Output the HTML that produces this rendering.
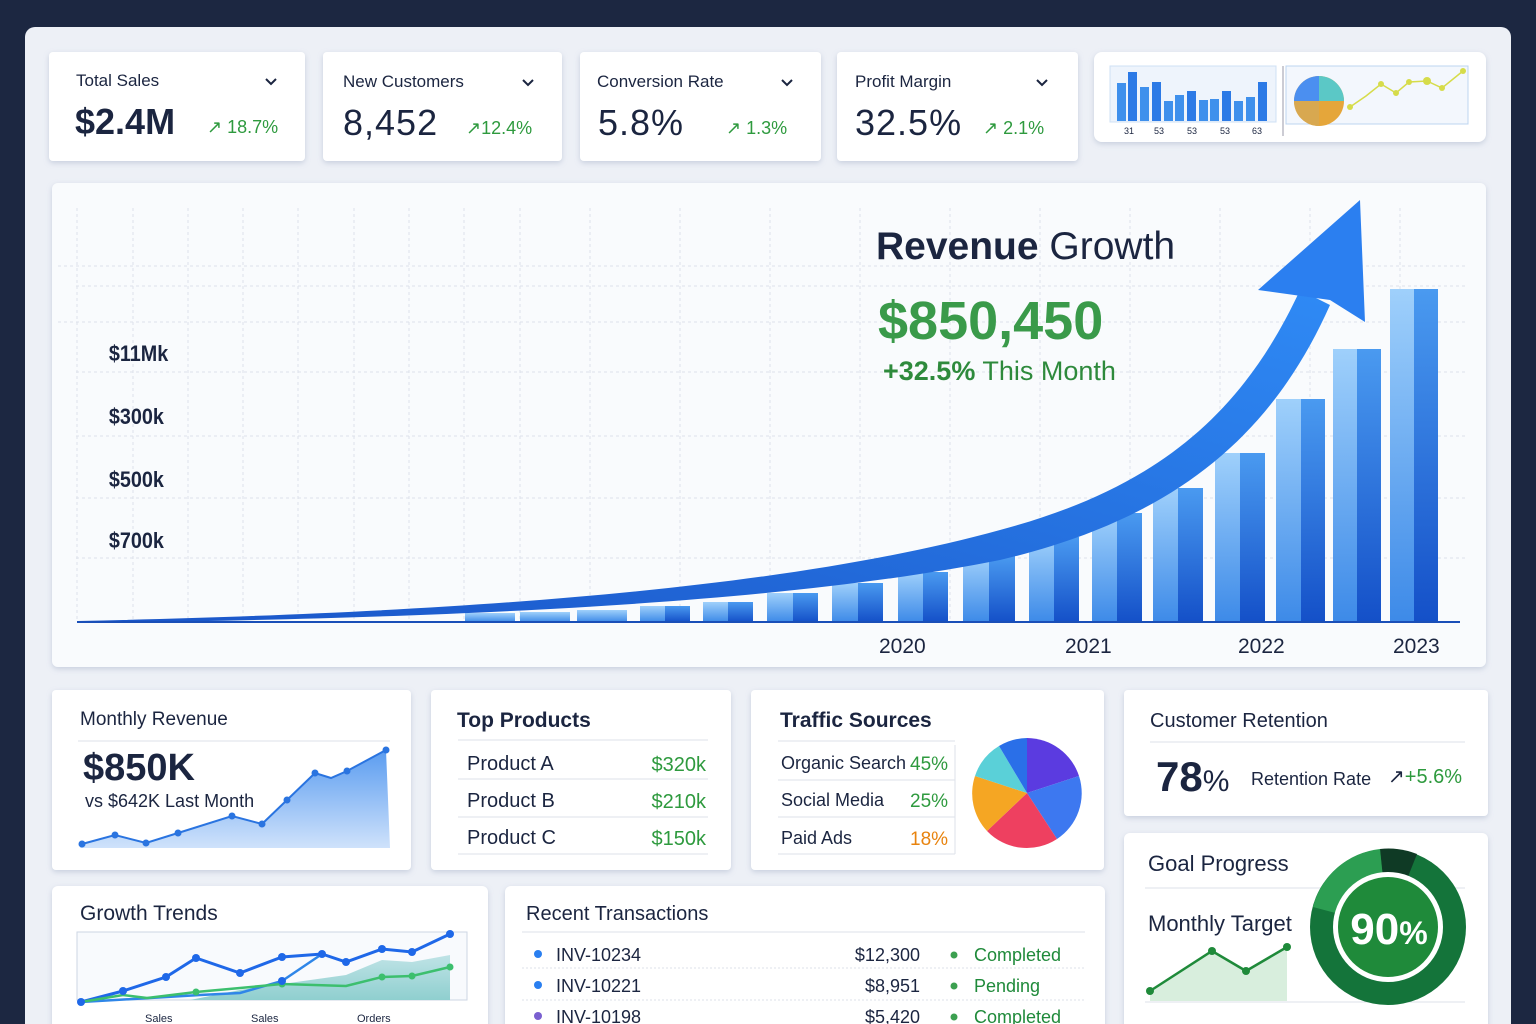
<!DOCTYPE html>
<html><head><meta charset="utf-8"><style>
html,body{margin:0;padding:0;width:1536px;height:1024px;overflow:hidden;background:#1c2741}
svg{display:block}
text{font-family:"Liberation Sans",sans-serif}
</style></head><body>
<svg width="1536" height="1024" viewBox="0 0 1536 1024" xmlns="http://www.w3.org/2000/svg">
<defs>
<filter id="sh" x="-5%" y="-5%" width="110%" height="120%"><feDropShadow dx="0" dy="2" stdDeviation="3" flood-color="#8090b0" flood-opacity="0.35"/></filter>
<linearGradient id="barL" x1="0" y1="0" x2="0" y2="1"><stop offset="0" stop-color="#9fd0fb"/><stop offset="1" stop-color="#3d8ae8"/></linearGradient>
<linearGradient id="barD" x1="0" y1="0" x2="0" y2="1"><stop offset="0" stop-color="#4a9af0"/><stop offset="1" stop-color="#1450c8"/></linearGradient>
<linearGradient id="arr" x1="0" y1="1" x2="1" y2="0"><stop offset="0" stop-color="#1a55c8"/><stop offset="1" stop-color="#2f8af5"/></linearGradient>
<linearGradient id="mr" x1="0" y1="0" x2="0" y2="1"><stop offset="0" stop-color="#5a9cf0"/><stop offset="1" stop-color="#cfe2fb"/></linearGradient>
<linearGradient id="gt" x1="0" y1="0" x2="0" y2="1"><stop offset="0" stop-color="#bfe3e6"/><stop offset="1" stop-color="#8fcfcf"/></linearGradient>
</defs>
<rect x="25" y="27" width="1486" height="1010" rx="10" fill="#edf0f6"/>

<g filter="url(#sh)">
<rect x="49" y="52" width="256" height="109" rx="4" fill="#fff"/>
<rect x="323" y="52" width="239" height="109" rx="4" fill="#fff"/>
<rect x="580" y="52" width="241" height="109" rx="4" fill="#fff"/>
<rect x="837" y="52" width="241" height="109" rx="4" fill="#fff"/>
<rect x="1094" y="52" width="392" height="90" rx="8" fill="#fff"/>
</g>
<g fill="#1b2540" font-size="17">
<text x="76" y="86">Total Sales</text>
<text x="343" y="87">New Customers</text>
<text x="597" y="87">Conversion Rate</text>
<text x="855" y="87">Profit Margin</text>
</g>
<g stroke="#1b2540" stroke-width="2" fill="none">
<path d="M266 79l5 5 5-5"/><path d="M523 80l5 5 5-5"/><path d="M782 80l5 5 5-5"/><path d="M1037 80l5 5 5-5"/>
</g>
<g fill="#1b2540" font-size="36">
<text x="75" y="134" font-weight="bold">$2.4M</text>
<text x="343" y="135" letter-spacing="1">8,452</text>
<text x="598" y="135" letter-spacing="1">5.8%</text>
<text x="855" y="135" letter-spacing="1">32.5%</text>
</g>
<g fill="#2e9a3e" font-size="18">
<text x="207" y="133">↗ 18.7%</text>
<text x="466" y="134">↗12.4%</text>
<text x="726" y="134">↗ 1.3%</text>
<text x="983" y="134">↗ 2.1%</text>
</g>
<rect x="1110" y="66" width="166" height="56" fill="#eef4fc" stroke="#cfe0f5"/>
<g fill="#3f90ec">
<rect x="1117" y="83" width="9" height="38"/><rect x="1128" y="72" width="9" height="49" fill="#2c7ae6"/><rect x="1140" y="87" width="9" height="34"/><rect x="1152" y="82" width="9" height="39" fill="#2c7ae6"/><rect x="1164" y="101" width="9" height="20"/><rect x="1175" y="95" width="9" height="26"/><rect x="1187" y="91" width="9" height="30" fill="#2c7ae6"/><rect x="1199" y="100" width="9" height="21"/><rect x="1210" y="99" width="9" height="22"/><rect x="1222" y="91" width="9" height="30" fill="#2c7ae6"/><rect x="1234" y="101" width="9" height="20"/><rect x="1246" y="97" width="9" height="24"/><rect x="1258" y="82" width="9" height="39" fill="#2c7ae6"/>
</g>
<g font-size="9" fill="#1b2540"><text x="1124" y="134">31</text><text x="1154" y="134">53</text><text x="1187" y="134">53</text><text x="1220" y="134">53</text><text x="1252" y="134">63</text></g>
<line x1="1283" y1="66" x2="1283" y2="136" stroke="#99a"/>
<rect x="1286" y="66" width="182" height="58" fill="#f3f7fd" stroke="#bcd4f0"/>
<circle cx="1319" cy="101" r="25" fill="#e5a63a"/>
<path d="M1319 101V76A25 25 0 0 1 1344 101Z" fill="#5bc8c6"/>
<path d="M1319 101H1294A25 25 0 0 1 1319 76Z" fill="#4b8ff0"/>
<path d="M1319 101H1294A25 25 0 0 0 1319 126Z" fill="#d8a850"/>
<polyline points="1350,107 1366,96 1381,84 1396,93 1409,82 1427,81 1442,88 1463,71" fill="none" stroke="#d6dc4a" stroke-width="1.5"/>
<g fill="#d6dc4a"><circle cx="1350" cy="107" r="3"/><circle cx="1381" cy="84" r="3"/><circle cx="1396" cy="93" r="3"/><circle cx="1409" cy="82" r="3"/><circle cx="1427" cy="81" r="4"/><circle cx="1442" cy="88" r="3"/><circle cx="1463" cy="71" r="3"/></g>

<rect x="52" y="183" width="1434" height="484" rx="6" fill="#f9fbfd" filter="url(#sh)"/>
<g stroke="#dde2ea" stroke-dasharray="3 3" stroke-width="1">
<line x1="58" y1="266" x2="1466" y2="266"/><line x1="76" y1="286" x2="1466" y2="286"/><line x1="58" y1="322" x2="1466" y2="322"/><line x1="76" y1="372" x2="1466" y2="372"/><line x1="76" y1="436" x2="1466" y2="436"/><line x1="76" y1="498" x2="1466" y2="498"/><line x1="76" y1="558" x2="1466" y2="558"/>
<line x1="77" y1="208" x2="77" y2="620"/><line x1="133" y1="208" x2="133" y2="620"/><line x1="188" y1="208" x2="188" y2="620"/><line x1="243" y1="208" x2="243" y2="620"/><line x1="298" y1="208" x2="298" y2="620"/><line x1="354" y1="208" x2="354" y2="620"/><line x1="409" y1="208" x2="409" y2="620"/><line x1="464" y1="208" x2="464" y2="620"/><line x1="520" y1="208" x2="520" y2="620"/><line x1="590" y1="208" x2="590" y2="620"/><line x1="680" y1="208" x2="680" y2="620"/><line x1="770" y1="208" x2="770" y2="620"/><line x1="860" y1="208" x2="860" y2="620"/><line x1="950" y1="208" x2="950" y2="620"/><line x1="1040" y1="208" x2="1040" y2="620"/><line x1="1130" y1="208" x2="1130" y2="620"/><line x1="1220" y1="208" x2="1220" y2="620"/><line x1="1310" y1="208" x2="1310" y2="620"/><line x1="1400" y1="208" x2="1400" y2="620"/>
</g>
<g font-size="22" font-weight="bold" fill="#1b2540" transform="scale(0.9,1)">
<text x="121" y="361">$11Mk</text><text x="121" y="424">$300k</text><text x="121" y="487">$500k</text><text x="121" y="548">$700k</text>
</g>
<g>
<rect x="465" y="613" width="50" height="9" fill="url(#barL)"/>
<rect x="520" y="612" width="50" height="10" fill="url(#barL)"/>
<rect x="577" y="610" width="50" height="12" fill="url(#barL)"/>
<rect x="640" y="606" width="25" height="16" fill="url(#barL)"/><rect x="665" y="606" width="25" height="16" fill="url(#barD)"/>
<rect x="703" y="602" width="25" height="20" fill="url(#barL)"/><rect x="728" y="602" width="25" height="20" fill="url(#barD)"/>
<rect x="767" y="593" width="26" height="29" fill="url(#barL)"/><rect x="793" y="593" width="25" height="29" fill="url(#barD)"/>
<rect x="832" y="583" width="26" height="39" fill="url(#barL)"/><rect x="858" y="583" width="25" height="39" fill="url(#barD)"/>
<rect x="898" y="572" width="25" height="50" fill="url(#barL)"/><rect x="923" y="572" width="25" height="50" fill="url(#barD)"/>
<rect x="963" y="556" width="26" height="66" fill="url(#barL)"/><rect x="989" y="556" width="26" height="66" fill="url(#barD)"/>
<rect x="1029" y="537" width="25" height="85" fill="url(#barL)"/><rect x="1054" y="537" width="25" height="85" fill="url(#barD)"/>
<rect x="1092" y="513" width="25" height="109" fill="url(#barL)"/><rect x="1117" y="513" width="25" height="109" fill="url(#barD)"/>
<rect x="1153" y="488" width="25" height="134" fill="url(#barL)"/><rect x="1178" y="488" width="25" height="134" fill="url(#barD)"/>
<rect x="1215" y="453" width="25" height="169" fill="url(#barL)"/><rect x="1240" y="453" width="25" height="169" fill="url(#barD)"/>
<rect x="1276" y="399" width="25" height="223" fill="url(#barL)"/><rect x="1301" y="399" width="24" height="223" fill="url(#barD)"/>
<rect x="1333" y="349" width="24" height="273" fill="url(#barL)"/><rect x="1357" y="349" width="24" height="273" fill="url(#barD)"/>
<rect x="1390" y="289" width="24" height="333" fill="url(#barL)"/><rect x="1414" y="289" width="24" height="333" fill="url(#barD)"/>
</g>
<path d="M78 621 C500 612 800 585 1000 530 C1150 490 1240 420 1300 290 L1330 305 C1270 440 1170 520 1000 560 C800 600 500 618 78 623Z" fill="url(#arr)"/>
<path d="M1258 290 L1360 200 L1365 322 L1330 300 Z" fill="#2b7ff0"/>
<line x1="77" y1="622" x2="1460" y2="622" stroke="#1a4fb8" stroke-width="2"/>
<g font-size="21" fill="#1b2540"><text x="879" y="653">2020</text><text x="1065" y="653">2021</text><text x="1238" y="653">2022</text><text x="1393" y="653">2023</text></g>
<text x="876" y="259" font-size="39" fill="#1b2540"><tspan font-weight="bold">Revenue</tspan> Growth</text>
<text x="878" y="339" font-size="54" font-weight="bold" fill="#3a9a4a">$850,450</text>
<text x="883" y="380" font-size="27" fill="#2e8a3c"><tspan font-weight="bold">+32.5%</tspan> This Month</text>

<g filter="url(#sh)">
<rect x="52" y="690" width="359" height="180" rx="4" fill="#fff"/>
<rect x="431" y="690" width="300" height="180" rx="4" fill="#fff"/>
<rect x="751" y="690" width="353" height="180" rx="4" fill="#fff"/>
<rect x="1124" y="690" width="364" height="126" rx="4" fill="#fff"/>
<rect x="1124" y="833" width="364" height="200" rx="6" fill="#fff"/>
<rect x="52" y="886" width="436" height="150" rx="6" fill="#fff"/>
<rect x="505" y="886" width="600" height="150" rx="6" fill="#fff"/>
</g>
<text x="80" y="725" font-size="19" fill="#1b2540">Monthly Revenue</text>
<line x1="78" y1="741" x2="390" y2="741" stroke="#dde2ea"/>
<text x="83" y="780" font-size="38" font-weight="bold" fill="#1b2540">$850K</text>
<text x="85" y="807" font-size="18" fill="#1b2540">vs $642K Last Month</text>
<path d="M82 844 L115 835 L146 843 L178 833 L232 816 L262 824 L287 800 L315 773 L331 778 L347 771 L386 750 L390 848 L80 848Z" fill="url(#mr)"/>
<polyline points="82,844 115,835 146,843 178,833 232,816 262,824 287,800 315,773 331,778 347,771 386,750" fill="none" stroke="#2a74e0" stroke-width="2"/>
<g fill="#2a74e0"><circle cx="82" cy="844" r="3.5"/><circle cx="115" cy="835" r="3.5"/><circle cx="146" cy="843" r="3.5"/><circle cx="178" cy="833" r="3.5"/><circle cx="232" cy="816" r="3.5"/><circle cx="262" cy="824" r="3.5"/><circle cx="287" cy="800" r="3.5"/><circle cx="315" cy="773" r="3.5"/><circle cx="347" cy="771" r="3.5"/><circle cx="386" cy="750" r="3.5"/></g>

<text x="457" y="727" font-size="21" font-weight="bold" fill="#1b2540">Top Products</text>
<g stroke="#dde2ea"><line x1="458" y1="740" x2="708" y2="740"/><line x1="458" y1="779" x2="708" y2="779"/><line x1="458" y1="817" x2="708" y2="817"/><line x1="458" y1="854" x2="708" y2="854"/></g>
<g font-size="20" fill="#1b2540"><text x="467" y="770">Product A</text><text x="467" y="807">Product B</text><text x="467" y="844">Product C</text></g>
<g font-size="20" fill="#2e9a3e" text-anchor="end"><text x="706" y="771">$320k</text><text x="706" y="808">$210k</text><text x="706" y="845">$150k</text></g>

<text x="780" y="727" font-size="21" font-weight="bold" fill="#1b2540">Traffic Sources</text>
<g stroke="#dde2ea"><line x1="778" y1="741" x2="955" y2="741"/><line x1="778" y1="780" x2="955" y2="780"/><line x1="778" y1="817" x2="955" y2="817"/><line x1="778" y1="854" x2="955" y2="854"/><line x1="955" y1="745" x2="955" y2="854"/></g>
<g font-size="18" fill="#1b2540"><text x="781" y="769">Organic Search</text><text x="781" y="806">Social Media</text><text x="781" y="844">Paid Ads</text></g>
<g font-size="19"><text x="910" y="770" fill="#2e9a3e">45%</text><text x="910" y="807" fill="#2e9a3e">25%</text><text x="910" y="845" fill="#e8830e">18%</text></g>
<g transform="translate(1027,793)">
<path d="M0 0L0-55A55 55 0 0 1 52-17Z" fill="#5b3be0"/>
<path d="M0 0L52-17A55 55 0 0 1 30 46Z" fill="#3d78f0"/>
<path d="M0 0L30 46A55 55 0 0 1-40 38Z" fill="#ee4060"/>
<path d="M0 0L-40 38A55 55 0 0 1-52-17Z" fill="#f5a623"/>
<path d="M0 0L-52-17A55 55 0 0 1-28-47Z" fill="#5ad0d8"/>
<path d="M0 0L-28-47A55 55 0 0 1 0-55Z" fill="#2a6fe8"/>
</g>

<text x="1150" y="727" font-size="20" fill="#1b2540">Customer Retention</text>
<line x1="1150" y1="742" x2="1465" y2="742" stroke="#dde2ea"/>
<text x="1156" y="791" font-size="42" font-weight="bold" fill="#1b2540">78<tspan font-size="30" font-weight="normal">%</tspan></text>
<text x="1251" y="785" font-size="18" fill="#1b2540">Retention Rate</text>
<text x="1388" y="783" font-size="20" fill="#2e9a3e"><tspan fill="#1b2540">↗</tspan>+5.6%</text>

<text x="1148" y="871" font-size="22" fill="#1b2540">Goal Progress</text>
<line x1="1145" y1="888" x2="1465" y2="888" stroke="#dde2ea"/>
<line x1="1145" y1="1002" x2="1465" y2="1002" stroke="#dde2ea"/>
<text x="1148" y="931" font-size="22" fill="#1b2540">Monthly Target</text>
<path d="M1150 991L1212 951L1246 971L1287 947V1001H1150Z" fill="#d8eedd"/>
<polyline points="1150,991 1212,951 1246,971 1287,947" fill="none" stroke="#1f8a3a" stroke-width="2.5"/>
<g fill="#1f8a3a"><circle cx="1150" cy="991" r="4"/><circle cx="1212" cy="951" r="4"/><circle cx="1246" cy="971" r="4"/><circle cx="1287" cy="947" r="4"/></g>
<circle cx="1388" cy="927" r="78" fill="#14743a"/>
<path d="M1388 927L1380 849A78 78 0 0 1 1417 854Z" fill="#0f3a25"/>
<path d="M1388 927L1313 907A78 78 0 0 1 1380 849Z" fill="#2c9e52"/>
<circle cx="1388" cy="927" r="55" fill="#fff"/>
<circle cx="1388" cy="927" r="50" fill="#1f8a3a"/>
<text x="1389" y="944" font-size="44" font-weight="bold" fill="#fff" text-anchor="middle">90<tspan font-size="32">%</tspan></text>

<text x="80" y="920" font-size="21" fill="#1b2540">Growth Trends</text>
<rect x="77" y="932" width="390" height="68" fill="#f8fafd" stroke="#cdd6e3"/>
<path d="M190 1000L240 990L282 984L346 975L382 960L412 962L450 955V1000Z" fill="url(#gt)"/>
<polyline points="81,1002 150,998 200,995 240,993 282,981 322,954" fill="none" stroke="#2f86e8" stroke-width="2.5"/>
<polyline points="81,1002 123,991 166,977 196,958 240,973 282,957 322,954 346,962 382,949 412,952 450,934" fill="none" stroke="#1f68e8" stroke-width="3"/>
<polyline points="81,1002 123,995 147,998 196,992 240,988 282,984 346,986 382,977 412,976 450,967" fill="none" stroke="#3cbf6e" stroke-width="2.5"/>
<g fill="#3cbf6e"><circle cx="196" cy="992" r="3.5"/><circle cx="282" cy="984" r="3.5"/><circle cx="382" cy="977" r="3.5"/><circle cx="412" cy="976" r="3.5"/><circle cx="450" cy="967" r="3.5"/></g>
<g fill="#1f68e8"><circle cx="81" cy="1002" r="4"/><circle cx="123" cy="991" r="4"/><circle cx="166" cy="977" r="4"/><circle cx="196" cy="958" r="4"/><circle cx="240" cy="973" r="4"/><circle cx="282" cy="957" r="4"/><circle cx="282" cy="981" r="4"/><circle cx="322" cy="954" r="4"/><circle cx="346" cy="962" r="4"/><circle cx="382" cy="949" r="4"/><circle cx="412" cy="952" r="4"/><circle cx="450" cy="934" r="4"/></g>
<g font-size="11" fill="#1b2540"><text x="145" y="1022">Sales</text><text x="251" y="1022">Sales</text><text x="357" y="1022">Orders</text></g>

<text x="526" y="920" font-size="20" fill="#1b2540">Recent Transactions</text>
<line x1="522" y1="932" x2="1085" y2="932" stroke="#dde2ea"/>
<g stroke="#dde2ea" stroke-dasharray="2 2"><line x1="522" y1="968" x2="1085" y2="968"/><line x1="522" y1="1000" x2="1085" y2="1000"/></g>
<circle cx="538" cy="954" r="4" fill="#2a7ff0"/><circle cx="538" cy="985" r="4" fill="#2a7ff0"/><circle cx="538" cy="1016" r="4" fill="#7a60d0"/>
<g font-size="18" fill="#1b2540"><text x="556" y="961">INV-10234</text><text x="556" y="992">INV-10221</text><text x="556" y="1023">INV-10198</text></g>
<g font-size="18" fill="#1b2540" text-anchor="end"><text x="920" y="961">$12,300</text><text x="920" y="992">$8,951</text><text x="920" y="1023">$5,420</text></g>
<g fill="#3ca050"><circle cx="954" cy="955" r="3.5"/><circle cx="954" cy="986" r="3.5"/><circle cx="954" cy="1017" r="3.5"/></g>
<g font-size="18" fill="#1f8a3a"><text x="974" y="961">Completed</text><text x="974" y="992">Pending</text><text x="974" y="1023">Completed</text></g>
</svg>
</body></html>
